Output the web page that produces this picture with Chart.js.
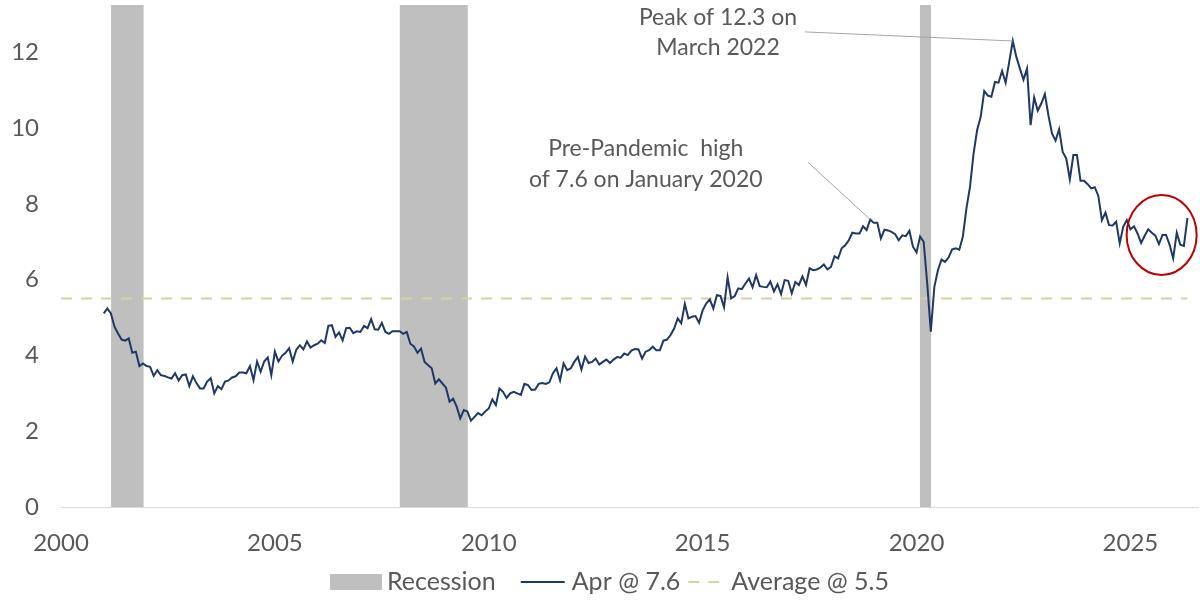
<!DOCTYPE html>
<html>
<head>
<meta charset="utf-8">
<script src="https://cdn.jsdelivr.net/npm/chart.js@4.4.1/dist/chart.umd.min.js"></script>
<style>
  html, body { margin: 0; padding: 0; background: #fff; }
  #wrap { width: 1200px; height: 600px; }
</style>
</head>
<body>
<div id="wrap"><canvas id="chart" width="1200" height="600"></canvas></div>
<script>
// monthly series, first value is Dec 2000 (plotted at month end), last is Apr 2026
const startYear = 2001;
const openings = [
  5.11, 5.24, 5.11, 4.76, 4.58, 4.42, 4.39, 4.45, 4.07, 4.10,
  3.72, 3.79, 3.72, 3.70, 3.46, 3.61, 3.48, 3.46, 3.42, 3.39,
  3.53, 3.34, 3.48, 3.50, 3.19, 3.45, 3.27, 3.13, 3.13, 3.31,
  3.40, 3.00, 3.19, 3.11, 3.31, 3.34, 3.42, 3.45, 3.55, 3.55,
  3.53, 3.72, 3.35, 3.84, 3.57, 3.84, 3.95, 3.48, 4.10, 3.84,
  3.99, 4.07, 4.19, 3.84, 4.15, 4.27, 4.16, 4.37, 4.21, 4.27,
  4.31, 4.40, 4.33, 4.78, 4.80, 4.49, 4.61, 4.40, 4.72, 4.73,
  4.59, 4.64, 4.62, 4.78, 4.72, 4.96, 4.69, 4.68, 4.86, 4.62,
  4.57, 4.64, 4.64, 4.64, 4.57, 4.62, 4.31, 4.24, 4.07, 4.18,
  3.83, 3.74, 3.66, 3.26, 3.37, 3.26, 3.15, 2.78, 2.86, 2.65,
  2.34, 2.56, 2.52, 2.28, 2.38, 2.48, 2.42, 2.52, 2.60, 2.84,
  2.69, 3.13, 3.04, 2.88, 3.00, 3.04, 3.00, 2.96, 3.25, 3.22,
  3.09, 3.10, 3.25, 3.27, 3.25, 3.29, 3.53, 3.66, 3.34, 3.79,
  3.61, 3.66, 3.83, 3.96, 3.63, 3.97, 3.80, 3.83, 3.92, 3.76,
  3.83, 3.89, 3.80, 3.89, 3.96, 3.94, 4.05, 4.01, 4.13, 4.17,
  4.16, 3.92, 4.10, 4.14, 4.23, 4.14, 4.14, 4.39, 4.42, 4.54,
  4.71, 4.98, 4.85, 5.36, 4.98, 5.02, 5.04, 4.86, 5.19, 5.37,
  5.48, 5.24, 5.59, 5.57, 5.27, 6.06, 5.51, 5.57, 5.77, 5.75,
  5.90, 6.03, 5.80, 6.12, 5.83, 5.81, 5.80, 5.95, 5.69, 5.88,
  5.62, 5.99, 5.97, 5.64, 5.94, 5.86, 6.09, 5.86, 6.30, 6.25,
  6.27, 6.32, 6.40, 6.27, 6.34, 6.62, 6.56, 6.83, 6.91, 7.04,
  7.24, 7.22, 7.22, 7.41, 7.31, 7.59, 7.50, 7.50, 7.09, 7.32,
  7.30, 7.26, 7.20, 7.04, 7.17, 7.15, 7.29, 6.87, 6.72, 7.14,
  7.00, 5.90, 4.63, 5.81, 6.25, 6.53, 6.47, 6.59, 6.80, 6.83,
  6.79, 7.14, 7.88, 8.45, 9.33, 9.95, 10.30, 10.98, 10.86, 10.83,
  11.22, 11.20, 11.51, 11.20, 11.75, 12.30, 11.88, 11.57, 11.28, 11.57,
  10.08, 10.81, 10.46, 10.65, 10.90, 10.34, 9.86, 9.67, 9.97, 9.37,
  9.20, 8.65, 9.29, 9.29, 8.61, 8.61, 8.52, 8.41, 8.44, 8.21,
  7.57, 7.77, 7.44, 7.43, 7.53, 6.96, 7.40, 7.57, 7.33, 7.41,
  7.22, 6.97, 7.16, 7.33, 7.24, 7.16, 6.94, 7.18, 7.18, 6.92,
  6.56, 7.24, 6.92, 6.89, 7.63
];
const recessionStart = [2001.17, 2007.92, 2020.08];
const recessionEnd = [2001.93, 2009.51, 2020.34];
const averageValue = 5.5;
const xTicks = [2000, 2005, 2010, 2015, 2020, 2025];
const yTicks = [0, 2, 4, 6, 8, 10, 12];
const seriesNames = ["Recession", "Apr @ 7.6", "Average @ 5.5"];

const xMin = 2000, xMax = 2026.58, yMin = 0, yMax = 13.25;
const textColor = "#595959";
const navy = "#1f3864";
const avgColor = "#d8cfa6";
const barGrey = "#bfbfbf";

const linePoints = openings.map((v, i) => ({ x: startYear + i / 12, y: v }));
const lastX = linePoints[linePoints.length - 1].x;

let recessionPoints = [{ x: xMin, y: 0 }];
for (let i = 0; i < recessionStart.length; i++) {
  recessionPoints.push({ x: recessionStart[i], y: 0 });
  recessionPoints.push({ x: recessionStart[i], y: yMax });
  recessionPoints.push({ x: recessionEnd[i], y: yMax });
  recessionPoints.push({ x: recessionEnd[i], y: 0 });
}
recessionPoints.push({ x: xMax, y: 0 });

// index of the all-time high and of the pre-2020 high, for the callouts
let peakIdx = 0, prePeakIdx = 0;
openings.forEach((v, i) => {
  if (v > openings[peakIdx]) peakIdx = i;
  if (startYear + i / 12 < 2020 && v > openings[prePeakIdx]) prePeakIdx = i;
});

const notes = [
  { lines: ["Peak of 12.3 on", "March 2022"], x: 2015.36, y: [12.92, 12.13], from: [2017.39, 12.54], idx: peakIdx },
  { lines: ["Pre-Pandemic  high", "of 7.6 on January 2020"], x: 2013.67, y: [9.47, 8.63], from: [2017.46, 9.10], idx: prePeakIdx }
];
const circleAt = { x: 2025.73, y: 7.18, rx: 35, ry: 40 };

const notesPlugin = {
  id: "notes",
  afterDatasetsDraw(chart) {
    const ctx = chart.ctx;
    const xs = chart.scales.x, ys = chart.scales.y;
    ctx.save();
    ctx.font = "23px Lato";
    ctx.fillStyle = textColor;
    ctx.textAlign = "center";
    ctx.textBaseline = "middle";
    notes.forEach(n => {
      n.lines.forEach((t, k) => ctx.fillText(t, xs.getPixelForValue(n.x), ys.getPixelForValue(n.y[k])));
      ctx.strokeStyle = "#a6a6a6";
      ctx.lineWidth = 1;
      ctx.beginPath();
      ctx.moveTo(xs.getPixelForValue(n.from[0]), ys.getPixelForValue(n.from[1]));
      ctx.lineTo(xs.getPixelForValue(linePoints[n.idx].x), ys.getPixelForValue(linePoints[n.idx].y));
      ctx.stroke();
    });
    ctx.strokeStyle = "#c00000";
    ctx.lineWidth = 2;
    ctx.beginPath();
    ctx.ellipse(xs.getPixelForValue(circleAt.x), ys.getPixelForValue(circleAt.y), circleAt.rx, circleAt.ry, 0, 0, Math.PI * 2);
    ctx.stroke();
    ctx.restore();
  }
};

const legendPlugin = {
  id: "bottomLegend",
  afterDraw(chart) {
    const ctx = chart.ctx;
    ctx.save();
    ctx.font = "25px Lato";
    ctx.textBaseline = "middle";
    const swatchW = [52, 44, 40];
    const gapText = [5, 7, 3];
    const gapItem = [25, 8, 0];
    let x = 330;
    const y = 582;
    seriesNames.forEach((s, i) => {
      const ds = chart.data.datasets[i];
      if (i === 0) {
        ctx.fillStyle = ds.backgroundColor;
        ctx.fillRect(x, y - 8, swatchW[i], 16);
      } else {
        ctx.strokeStyle = ds.borderColor;
        ctx.lineWidth = ds.borderWidth;
        ctx.setLineDash(ds.borderDash || []);
        ctx.beginPath();
        ctx.moveTo(x, y);
        ctx.lineTo(x + swatchW[i], y);
        ctx.stroke();
        ctx.setLineDash([]);
      }
      x += swatchW[i] + gapText[i];
      ctx.fillStyle = textColor;
      ctx.fillText(s, x, y);
      x += ctx.measureText(s).width + gapItem[i];
    });
    ctx.restore();
  }
};

new Chart(document.getElementById("chart"), {
  type: "line",
  data: {
    datasets: [
      {
        label: seriesNames[0],
        data: recessionPoints,
        backgroundColor: barGrey,
        borderWidth: 0,
        pointRadius: 0,
        fill: "origin",
        tension: 0,
        order: 3
      },
      {
        label: seriesNames[1],
        data: linePoints,
        borderColor: navy,
        borderWidth: 2,
        pointRadius: 0,
        fill: false,
        tension: 0,
        order: 1
      },
      {
        label: seriesNames[2],
        data: [{ x: xMin, y: averageValue }, { x: lastX, y: averageValue }],
        borderColor: avgColor,
        borderWidth: 2,
        borderDash: [11, 9],
        pointRadius: 0,
        fill: false,
        order: 2
      }
    ]
  },
  options: {
    responsive: false,
    devicePixelRatio: 1,
    animation: false,
    layout: { padding: { left: 6, right: 2, top: 5, bottom: 33 } },
    plugins: {
      legend: { display: false },
      tooltip: { enabled: false }
    },
    scales: {
      x: {
        type: "linear",
        min: xMin,
        max: xMax,
        afterBuildTicks: s => { s.ticks = xTicks.map(v => ({ value: v })); },
        afterFit: s => { s.height = 60; s.paddingLeft = 0; s.paddingRight = 0; },
        grid: { display: false },
        border: { display: true, color: "#d9d9d9", width: 1 },
        ticks: {
          color: textColor,
          font: { family: "Lato", size: 24 },
          padding: 14,
          maxRotation: 0,
          callback: v => String(v)
        }
      },
      y: {
        min: yMin,
        max: yMax,
        afterBuildTicks: s => { s.ticks = yTicks.map(v => ({ value: v })); },
        afterFit: s => { s.width = 55; s.paddingTop = 0; s.paddingBottom = 0; },
        grid: { display: false },
        border: { display: false },
        ticks: {
          color: textColor,
          font: { family: "Lato", size: 24 },
          padding: 14,
          callback: v => String(v)
        }
      }
    }
  },
  plugins: [notesPlugin, legendPlugin]
});
</script>
</body>
</html>
